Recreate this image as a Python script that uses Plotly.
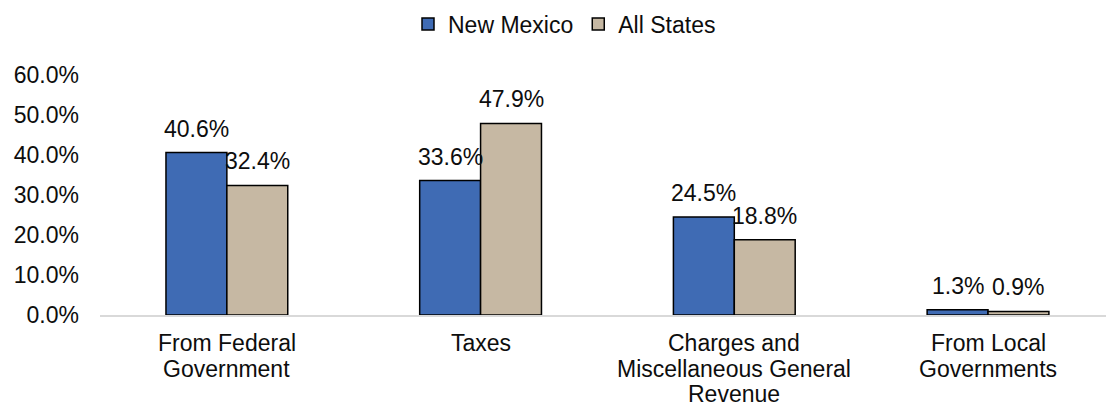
import plotly.graph_objects as go

categories = ["From Federal<br>Government", "Taxes",
              "Charges and<br>Miscellaneous General<br>Revenue",
              "From Local<br>Governments"]
new_mexico = [0.406, 0.336, 0.245, 0.013]
all_states = [0.324, 0.479, 0.188, 0.009]
y_ticks = [0.0, 0.1, 0.2, 0.3, 0.4, 0.5, 0.6]

FONT = dict(family="Liberation Sans, Arial, sans-serif", size=23, color="#0d0d0d")
BARGAP = 0.52
HALF = (1 - BARGAP) / 4  # offset of each bar centre from the category centre

positions = list(range(len(categories)))

fig = go.Figure()
fig.add_trace(go.Bar(
    x=positions, y=new_mexico, name="New Mexico",
    marker=dict(color="#3F6BB4", line=dict(color="#000000", width=1.5)),
))
fig.add_trace(go.Bar(
    x=positions, y=all_states, name="All States",
    marker=dict(color="#C6B8A3", line=dict(color="#000000", width=1.5)),
))

# data labels
for series, sign in ((new_mexico, -1), (all_states, 1)):
    for i, v in zip(positions, series):
        fig.add_annotation(
            x=i + sign * HALF, y=v, xref="x", yref="y",
            text=f"{v*100:.1f}%", showarrow=False, font=FONT,
            xanchor="center", yanchor="middle", yshift=24,
        )

# category labels, one annotation per line for tighter line spacing
for i, cat in zip(positions, categories):
    for k, line in enumerate(cat.split("<br>")):
        fig.add_annotation(
            x=i, y=0, xref="x", yref="y", text=line, showarrow=False, font=FONT,
            xanchor="center", yanchor="middle", yshift=-28 - 25.5 * k,
        )

fig.update_layout(
    width=1106, height=407,
    margin=dict(l=100, r=0, t=75, b=92),
    paper_bgcolor="white", plot_bgcolor="white",
    font=FONT,
    barmode="group", bargap=BARGAP, bargroupgap=0,
    showlegend=True,
    legend=dict(orientation="h", xref="container", yref="container",
                x=408 / 1106, xanchor="left", y=1 - 24 / 407, yanchor="middle",
                font=FONT, itemwidth=30, traceorder="normal"),
)
fig.update_xaxes(
    range=[-0.5, 3.465], showline=True, linecolor="#D9D9D9", linewidth=1.5,
    showgrid=False, zeroline=False, ticks="", showticklabels=False, automargin=False,
)
fig.update_yaxes(
    range=[0, 0.6], tickvals=y_ticks, tickformat=".1%", showgrid=False,
    showline=False, zeroline=False, ticks="", tickfont=FONT, ticklabelstandoff=20,
    automargin=False,
)

fig.write_html(
    "out.html",
    config={"displayModeBar": False},
    post_script="document.body.style.margin='0';document.body.style.padding='0';",
)
